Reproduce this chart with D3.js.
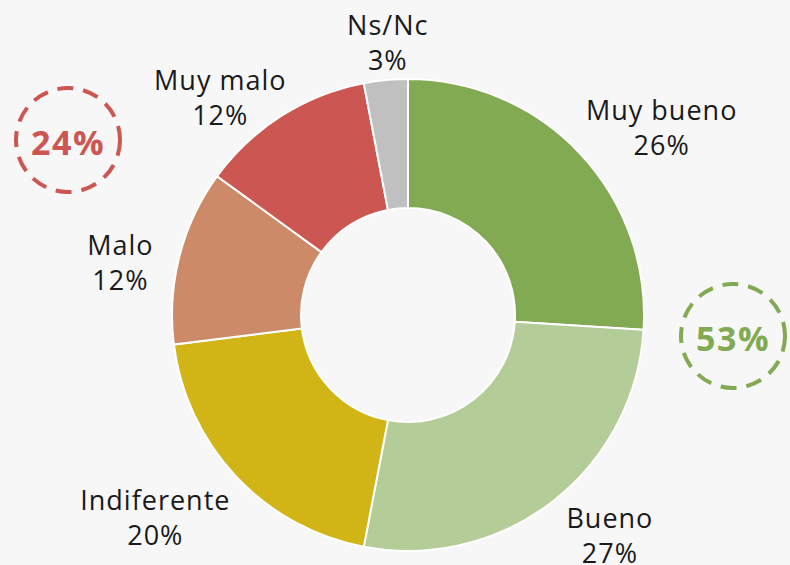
<!DOCTYPE html>
<html>
<head>
<meta charset="utf-8">
<script src="https://cdn.jsdelivr.net/npm/d3@7"></script>
<style>
  html, body { margin: 0; padding: 0; background: #f7f7f7; }
  svg { display: block; font-family: "Open Sans", "Noto Sans", sans-serif; }
</style>
</head>
<body>
<div id="chart"></div>
<script>
// data
const categories = ['Muy bueno', 'Bueno', 'Indiferente', 'Malo', 'Muy malo', 'Ns/Nc'];
const values = [26, 27, 20, 12, 12, 3];
const colors = ['#82aa53', '#b4cc97', '#d1b517', '#cd8a69', '#cc5651', '#c0c0c0'];

// grouped totals shown in dashed circles
const groupLabels = ['24%', '53%'];
const groupColors = ['#cc5651', '#82aa53'];

const width = 790;
const height = 565;
const cx = 408;
const cy = 315;
const outerR = 236;
const innerR = 107;

// small nudges so labels sit like the original's best-fit placement
const labelNudge = [
  [35, 10],
  [18, -24],
  [-34, -10],
  [3, 15],
  [-27, 28],
  [8, 19],
];

const svg = d3.select('#chart').append('svg').attr('width', width).attr('height', height);

const data = categories.map((name, i) => ({ name, value: values[i], color: colors[i] }));

const pie = d3.pie().sort(null).value((d) => d.value);
const arc = d3.arc().innerRadius(innerR).outerRadius(outerR);
const labelArc = d3.arc().innerRadius(300).outerRadius(300);

const chart = svg.append('g').attr('transform', `translate(${cx},${cy})`);
const arcs = pie(data);

chart
  .selectAll('.slice')
  .data(arcs)
  .enter()
  .append('path')
  .classed('slice', true)
  .attr('d', arc)
  .attr('fill', (d) => d.data.color)
  .attr('stroke', '#ffffff')
  .attr('stroke-width', 2);

const labels = chart
  .selectAll('.label')
  .data(arcs)
  .enter()
  .append('text')
  .classed('label', true)
  .attr('transform', (d, i) => {
    const [x, y] = labelArc.centroid(d);
    return `translate(${x + labelNudge[i][0]},${y + labelNudge[i][1]})`;
  })
  .attr('text-anchor', 'middle')
  .attr('font-size', 27)
  .attr('letter-spacing', 1)
  .attr('fill', '#1a1a1a');

labels.append('tspan').attr('x', 0).attr('y', 0).text((d) => d.data.name);
labels
  .append('tspan')
  .attr('x', 0)
  .attr('y', 35)
  .text((d) => `${d.data.value}%`);

// dashed summary circles
const badges = [
  { x: 68, y: 140 },
  { x: 733, y: 336 },
];

const badge = svg
  .selectAll('.badge')
  .data(badges)
  .enter()
  .append('g')
  .classed('badge', true)
  .attr('transform', (d) => `translate(${d.x},${d.y})`);

badge
  .append('circle')
  .attr('r', 52)
  .attr('fill', 'none')
  .attr('stroke', (d, i) => groupColors[i])
  .attr('stroke-width', 4)
  .attr('stroke-dasharray', '16 10');

badge
  .append('text')
  .attr('text-anchor', 'middle')
  .attr('y', 15)
  .attr('font-size', 34)
  .attr('letter-spacing', 1.5)
  .attr('font-weight', 'bold')
  .attr('fill', (d, i) => groupColors[i])
  .text((d, i) => groupLabels[i]);
</script>
</body>
</html>
